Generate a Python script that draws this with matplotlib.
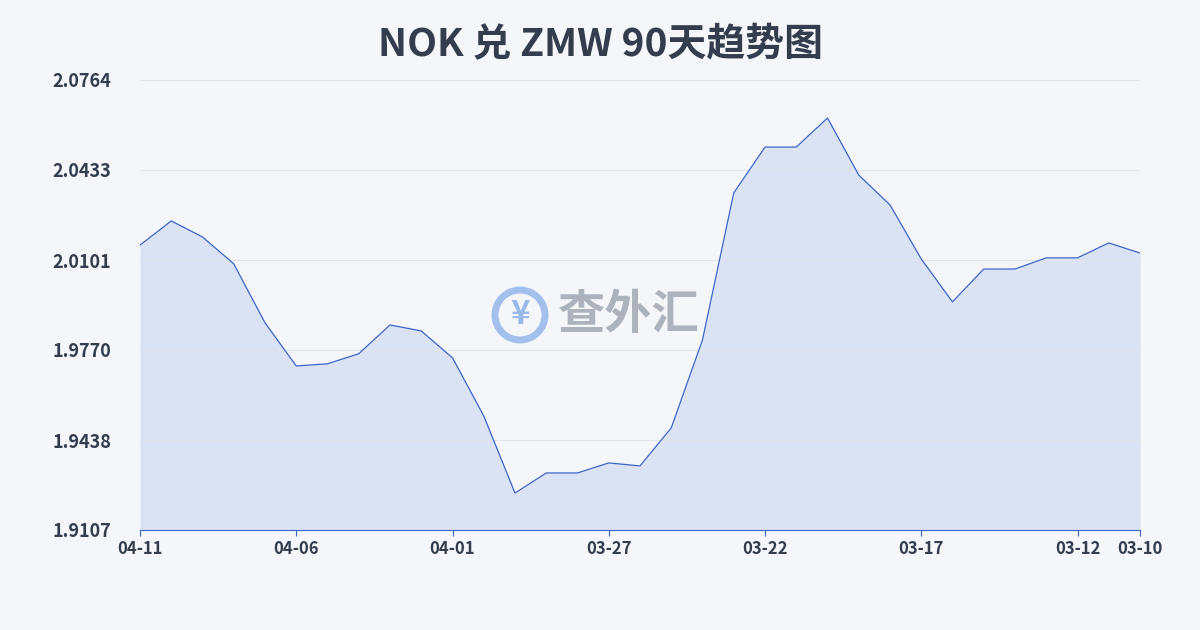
import matplotlib
matplotlib.use("Agg")
import matplotlib.pyplot as plt
from matplotlib.patches import Circle
import datetime as dt

plt.rcParams['font.family'] = ['Noto Sans CJK SC', 'DejaVu Sans']

title = "NOK 兑 ZMW 90天趋势图"
start = dt.date(2025, 4, 11)
values = [2.0156, 2.0245, 2.0186, 2.0087, 1.9870, 1.9711, 1.9719, 1.9756, 1.9862, 1.9840,
          1.9741, 1.9527, 1.9243, 1.9317, 1.9317, 1.9354, 1.9343, 1.9483, 1.9807, 2.0348,
          2.0517, 2.0517, 2.0624, 2.0414, 2.0304, 2.0105, 1.9947, 2.0068, 2.0068, 2.0109,
          2.0109, 2.0164, 2.0127]
dates = [(start - dt.timedelta(days=i)).strftime("%m-%d") for i in range(len(values))]
yticks = [1.9107, 1.9438, 1.9770, 2.0101, 2.0433, 2.0764]
xtick_idx = [0, 5, 10, 15, 20, 25, 30, 32]

fig = plt.figure(figsize=(12, 6.3), dpi=100)
fig.patch.set_facecolor("#f4f6f9")
ax = fig.add_axes([140/1200, 1-530/630, 1000/1200, 450/630])
ax.set_facecolor("none")
x = list(range(len(values)))
ax.fill_between(x, values, yticks[0], color="#c9d7f2", alpha=0.6, lw=0)
ax.plot(x, values, color="#3d63c9", lw=0.9)
ax.set_xlim(0, len(values)-1)
ax.set_ylim(yticks[0], yticks[-1])
ax.set_yticks(yticks)
ax.set_yticklabels([f"{v:.4f}" for v in yticks], fontsize=13, fontweight="bold", color="#333d4d")
ax.set_xticks(xtick_idx)
ax.set_xticklabels([dates[i] for i in xtick_idx], fontsize=12, fontweight="bold", color="#333d4d")
ax.grid(axis="y", color="#e1e5ea", lw=0.8)
for s in ["top", "right", "left"]:
    ax.spines[s].set_visible(False)
ax.spines["bottom"].set_color("#3d63c9")
ax.tick_params(axis="x", length=4, color="#3d63c9")
for lbl in ax.get_yticklabels():
    lbl.set_horizontalalignment("left")
ax.tick_params(axis="y", length=0, pad=63)

fig.text(0.5, 1-45/630, title, ha="center", va="center", fontsize=28, fontweight="bold", color="#333d4d")
fig.text(558/1200, 1-315/630, "查外汇", ha="left", va="center", fontsize=34, fontweight="bold", color="#9aa3ad", alpha=0.8)
c = Circle((5.2, 6.3-3.15), 0.25, transform=fig.dpi_scale_trans, fill=False, ec="#8fb3ea", lw=5, alpha=0.8)
fig.patches.append(c)
fig.text(520/1200, 1-315/630, "¥", ha="center", va="center", fontsize=24, fontweight="bold", color="#8fb3ea", alpha=0.9)
fig.savefig("out.png", dpi=100, facecolor=fig.get_facecolor())
